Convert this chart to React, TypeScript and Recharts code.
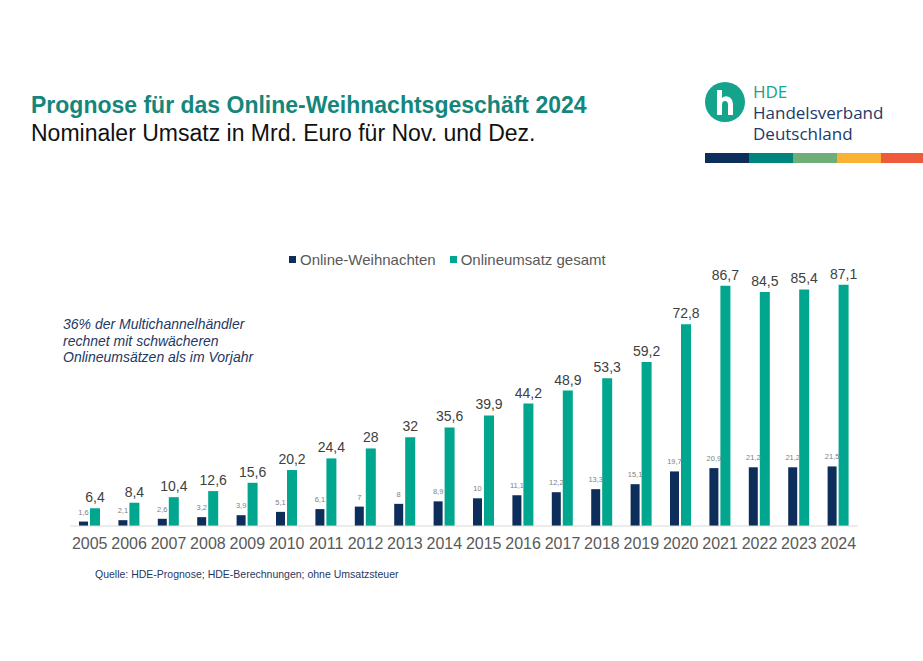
import { BarChart, Bar, XAxis, YAxis, LabelList } from "recharts";

const years = ["2005", "2006", "2007", "2008", "2009", "2010", "2011", "2012", "2013", "2014", "2015", "2016", "2017", "2018", "2019", "2020", "2021", "2022", "2023", "2024"];
const onlineWeihnachten = [1.6, 2.1, 2.6, 3.2, 3.9, 5.1, 6.1, 7, 8, 8.9, 10, 11.1, 12.2, 13.3, 15.1, 19.7, 20.9, 21.2, 21.2, 21.5];
const onlineGesamt = [6.4, 8.4, 10.4, 12.6, 15.6, 20.2, 24.4, 28, 32, 35.6, 39.9, 44.2, 48.9, 53.3, 59.2, 72.8, 86.7, 84.5, 85.4, 87.1];

const NAVY = "#0d2d5a";
const TEAL = "#00a68e";
const FONT = "'Liberation Sans', Arial, sans-serif";

const data = years.map((jahr, i) => ({ jahr, weihnachten: onlineWeihnachten[i], gesamt: onlineGesamt[i] }));
const deComma = (v: any) => String(v).replace(".", ",");

const stripe = ["#0d2d5a", "#00857c", "#6fae76", "#f9b233", "#ee5a3a"];

export default function App() {
  return (
    <div style={{ position: "absolute", left: 0, top: 0, width: 923, height: 661, background: "#fff", fontFamily: FONT, overflow: "hidden" }}>
      <div style={{ position: "absolute", left: 31, top: 92, fontSize: 23, fontWeight: "bold", color: "#14867c", whiteSpace: "nowrap" }}>
        Prognose für das Online-Weihnachtsgeschäft 2024
      </div>
      <div style={{ position: "absolute", left: 31, top: 120, fontSize: 23, color: "#111", whiteSpace: "nowrap" }}>
        Nominaler Umsatz in Mrd. Euro für Nov. und Dez.
      </div>

      {/* logo */}
      <svg style={{ position: "absolute", left: 702, top: 79 }} width={48} height={48}>
        <circle cx={23} cy={23} r={20} fill="#14a38b" />
        <path d="M15 11 h5 v8 q3 -3 7 -1 q4 2 4 8 v10 h-5 v-10 q0 -4 -3 -4 q-3 0 -3 4 v10 h-5 z" fill="#fff" />
      </svg>
      <div style={{ position: "absolute", left: 753, top: 81, fontFamily: "'Open Sans', sans-serif", lineHeight: "21px", fontSize: 17, fontWeight: 500, whiteSpace: "nowrap" }}>
        <div style={{ color: "#14a38b" }}>HDE</div>
        <div style={{ color: "#1b3a6b" }}>Handelsverband</div>
        <div style={{ color: "#1b3a6b" }}>Deutschland</div>
      </div>
      <div style={{ position: "absolute", left: 705, top: 153, display: "flex", height: 10 }}>
        {stripe.map((c) => (
          <div key={c} style={{ width: 44, height: 10, background: c }} />
        ))}
      </div>

      {/* legend */}
      <div style={{ position: "absolute", left: 289, top: 251, display: "flex", alignItems: "center", fontSize: 15, color: "#595959", whiteSpace: "nowrap" }}>
        <span style={{ width: 7, height: 7, background: NAVY, marginRight: 4 }} />
        <span style={{ marginRight: 14 }}>Online-Weihnachten</span>
        <span style={{ width: 7, height: 7, background: TEAL, marginRight: 4 }} />
        <span>Onlineumsatz gesamt</span>
      </div>

      <div style={{ position: "absolute", left: 63, top: 316, fontSize: 14, fontStyle: "italic", color: "#1f3864", lineHeight: "16.5px", whiteSpace: "nowrap" }}>
        36% der Multichannelhändler<br />rechnet mit schwächeren<br />Onlineumsätzen als im Vorjahr
      </div>

      <div style={{ position: "absolute", left: 95, top: 568, fontSize: 10.5, color: "#1f3864", whiteSpace: "nowrap" }}>
        Quelle: HDE-Prognose; HDE-Berechnungen; ohne Umsatzsteuer
      </div>

      <div style={{ position: "absolute", left: 0, top: 0 }}>
        <BarChart width={923} height={661} data={data} margin={{ top: 249, right: 65, bottom: 105, left: 70 }} barGap={2}>
          <XAxis
            dataKey="jahr"
            height={30}
            tickLine={false}
            axisLine={{ stroke: "#d9d9d9" }}
            tick={{ fontSize: 16, fill: "#595959", fontFamily: FONT }}
            tickMargin={6}
            interval={0}
          />
          <YAxis hide domain={[0, 100]} />
          <Bar dataKey="weihnachten" fill={NAVY} barSize={9} isAnimationActive={false}>
            <LabelList dataKey="weihnachten" position="top" offset={7} formatter={deComma} style={{ fontSize: 7.5, fill: "#7f7f7f", fontFamily: FONT }} />
          </Bar>
          <Bar dataKey="gesamt" fill={TEAL} barSize={10} isAnimationActive={false}>
            <LabelList dataKey="gesamt" position="top" offset={6} formatter={deComma} style={{ fontSize: 14, fill: "#404040", fontFamily: FONT }} />
          </Bar>
        </BarChart>
      </div>
    </div>
  );
}
